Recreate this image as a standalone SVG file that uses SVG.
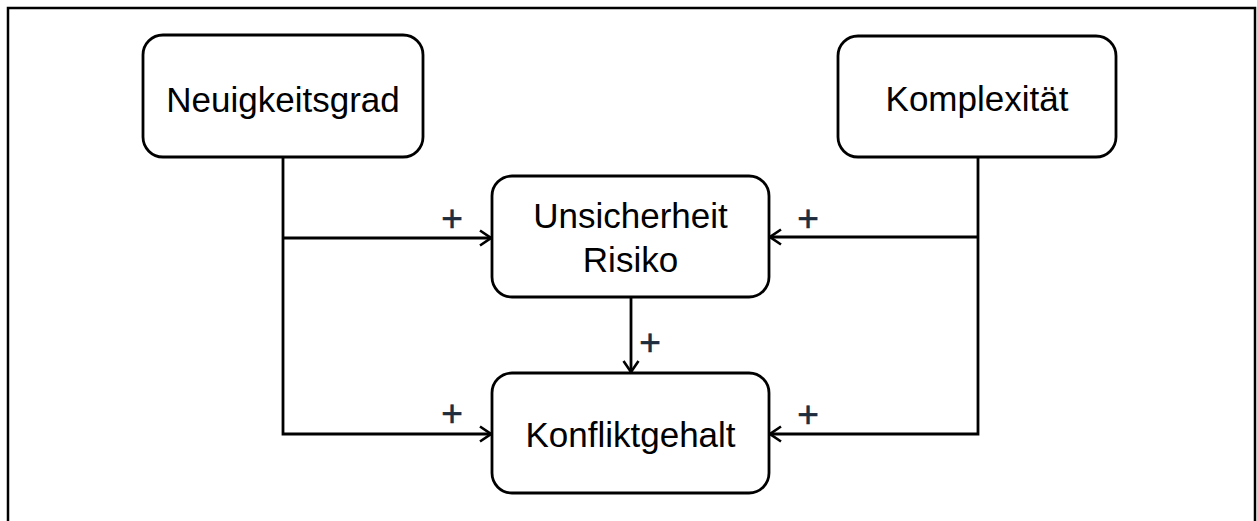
<svg xmlns="http://www.w3.org/2000/svg" width="1257" height="521" viewBox="0 0 1257 521">
<style>
.box{fill:#fff;stroke:#000;stroke-width:2.8}
.lbl{font-family:"Liberation Sans",Arial,sans-serif;font-size:35px;fill:#000;text-anchor:middle}
.plus{font-family:"Liberation Sans",Arial,sans-serif;font-size:37px;fill:#1e2d3d;text-anchor:middle;stroke:#1e2d3d;stroke-width:0.6}
.con{fill:none;stroke:#000;stroke-width:2.8}
</style>
<defs>
<marker id="arr" viewBox="0 0 13 18" refX="12" refY="9" markerWidth="13" markerHeight="18" markerUnits="userSpaceOnUse" orient="auto">
<path d="M1,1.5 L12,9 L1,16.5" fill="none" stroke="#000" stroke-width="2.6"/>
</marker>
</defs>
<rect x="0" y="0" width="1257" height="521" fill="#fff"/>
<path d="M8,521 V8 H1255 V521" fill="none" stroke="#000" stroke-width="2.5"/>
<g id="connectors">
<path class="con" d="M283,157 V434 H491" marker-end="url(#arr)"/>
<path class="con" d="M283,238 H491" marker-end="url(#arr)"/>
<path class="con" d="M978,157 V434 H770" marker-end="url(#arr)"/>
<path class="con" d="M978,237 H770" marker-end="url(#arr)"/>
<path class="con" d="M631,297 V372" marker-end="url(#arr)"/>
<text class="plus" x="452" y="231">+</text>
<text class="plus" x="808" y="231">+</text>
<text class="plus" x="650" y="355">+</text>
<text class="plus" x="452" y="426">+</text>
<text class="plus" x="808" y="427">+</text>
</g>
<g id="neuigkeitsgrad">
<rect class="box" x="143" y="35" width="280" height="122" rx="20"/>
<text class="lbl" x="283" y="112">Neuigkeitsgrad</text>
</g>
<g id="komplexitaet">
<rect class="box" x="838" y="36" width="278" height="121" rx="20"/>
<text class="lbl" x="977" y="111">Komplexität</text>
</g>
<g id="unsicherheit">
<rect class="box" x="492" y="176" width="277" height="121" rx="20"/>
<text class="lbl" x="630.5" y="228">Unsicherheit</text>
<text class="lbl" x="630.5" y="272">Risiko</text>
</g>
<g id="konfliktgehalt">
<rect class="box" x="492" y="373" width="277" height="120" rx="20"/>
<text class="lbl" x="630.5" y="447">Konfliktgehalt</text>
</g>
</svg>
